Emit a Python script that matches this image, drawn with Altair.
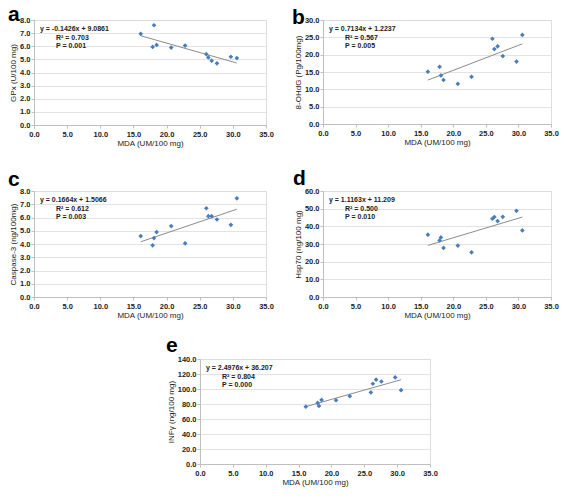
import altair as alt
import pandas as pd

# shared x values (MDA, UM/100 mg)
mda = [16.1, 17.9, 18.1, 18.5, 20.7, 22.8, 26.0, 26.3, 26.8, 27.6, 29.7, 30.6]

gpx = [6.95, 5.95, 7.6, 6.1, 5.9, 6.05, 5.4, 5.15, 4.9, 4.7, 5.2, 5.1]
ohdg = [15.1, 16.5, 14.0, 12.7, 11.6, 13.6, 24.6, 21.6, 22.4, 19.6, 18.0, 25.7]
casp = [4.6, 3.9, 4.45, 4.9, 5.35, 4.05, 6.7, 6.1, 6.1, 5.85, 5.45, 7.45]
hsp = [35.3, 32.0, 33.7, 27.8, 29.1, 25.3, 44.3, 45.3, 43.0, 45.4, 48.8, 37.7]
infg = [76.5, 81.5, 77.5, 85.5, 85.0, 90.5, 95.5, 107.0, 112.5, 110.0, 115.5, 98.5]

letters = ["a", "b", "c", "d", "e"]
y_titles = ["GPx (U/100 mg)", "8-OHdG (Pg/100mg)", "Caspase-3 (ng/100mg)",
            "Hsp70 (ng/100 mg)", "INFγ (ng/100 mg)"]
y_max = [8, 30, 8, 60, 140]
y_step = [1, 5, 1, 10, 20]
x_ticks = [0, 5, 10, 15, 20, 25, 30, 35]
equations = ["y = -0.1426x + 9.0861", "y = 0.7134x + 1.2237", "y = 0.1664x + 1.5066",
             "y = 1.1163x + 11.209", "y = 2.4976x + 36.207"]
r2_labels = ["R² = 0.703", "R² = 0.567", "R² = 0.612", "R² = 0.500", "R² = 0.804"]
p_labels = ["P  = 0.001", "P  = 0.005", "P  = 0.003", "P  = 0.010", "P  = 0.000"]
x_title = "MDA (UM/100 mg)"

series = [gpx, ohdg, casp, hsp, infg]

FONT = "Liberation Sans"
GRID = "#dcdcdc"
AXIS = "#bfbfbf"
BLUE = "#4a7ebb"
TXT = "#222222"

# letter offsets relative to plot origin (pixels)
letter_pos = [(-26, 1), (-31, 4), (-26, -5), (-30, -6), (-34, -7)]


def panel(i, w, h):
    df = pd.DataFrame({"x": mda, "y": series[i]})
    base = alt.Chart(df)
    common = dict(domainColor=AXIS, tickColor=AXIS, tickSize=3, labelOverlap=False,
                  labelFlush=False, labelFont=FONT, labelFontSize=7.5,
                  labelFontWeight="bold", labelColor=TXT, titleFont=FONT,
                  titleFontSize=8, titleFontWeight="normal", titleColor=TXT,
                  format=".1f", tickCount=20)
    yvals = list(range(0, y_max[i] + 1, y_step[i]))
    xs = alt.X("x:Q", title=x_title,
               scale=alt.Scale(domain=[0, 35], nice=False),
               axis=alt.Axis(values=x_ticks, grid=False, titlePadding=2, labelPadding=2,
                             **common))
    ys = alt.Y("y:Q", title=y_titles[i],
               scale=alt.Scale(domain=[0, y_max[i]], nice=False),
               axis=alt.Axis(values=yvals, grid=True, gridColor=GRID, gridWidth=0.8,
                             titlePadding=2, labelPadding=1, **common))
    pts = base.mark_point(shape="diamond", filled=True, color=BLUE, size=22,
                          opacity=1).encode(x=xs, y=ys)
    trend = base.transform_regression("x", "y").mark_line(
        color="#8c8c8c", strokeWidth=1).encode(x=xs, y=ys)
    tstyle = dict(font=FONT, fontSize=7, fontWeight="bold", color=TXT, align="left",
                  baseline="middle")
    t1 = alt.Chart(pd.DataFrame({"t": [equations[i]]})).mark_text(**tstyle).encode(
        text="t:N", x=alt.value(6), y=alt.value(9))
    t2 = alt.Chart(pd.DataFrame({"t": [r2_labels[i]]})).mark_text(**tstyle).encode(
        text="t:N", x=alt.value(22), y=alt.value(17.5))
    t3 = alt.Chart(pd.DataFrame({"t": [p_labels[i]]})).mark_text(**tstyle).encode(
        text="t:N", x=alt.value(22), y=alt.value(26))
    lx, ly = letter_pos[i]
    lt = alt.Chart(pd.DataFrame({"t": [letters[i]]})).mark_text(
        font=FONT, fontSize=21, fontWeight="bold", color="#000", align="left",
        baseline="alphabetic").encode(text="t:N", x=alt.value(lx), y=alt.value(ly))
    return alt.layer(trend, pts, t1, t2, t3, lt).properties(width=w, height=h)


a = panel(0, 232, 105)
b = panel(1, 228, 104)
c = panel(2, 232, 106)
d = panel(3, 228, 106)
e = panel(4, 230, 105)

spacer = alt.Chart(pd.DataFrame({"t": [""]})).mark_text().encode(
    text="t:N").properties(width=110, height=105)

row1 = alt.hconcat(a, b, spacing=57, bounds="flush")
row2 = alt.hconcat(c, d, spacing=57, bounds="flush")
row3 = alt.hconcat(spacer, e, spacing=56, bounds="flush")

chart = alt.vconcat(
    row1,
    alt.vconcat(row2, row3, spacing=168, bounds="flush"),
    spacing=171, bounds="flush",
).configure_view(stroke=None).configure(
    autosize=alt.AutoSizeParams(type="none"),
    padding={"left": 26, "top": 12, "right": 525, "bottom": 470},
    background="white")

chart.save("out.html", embed_options={"renderer": "svg", "actions": False})
